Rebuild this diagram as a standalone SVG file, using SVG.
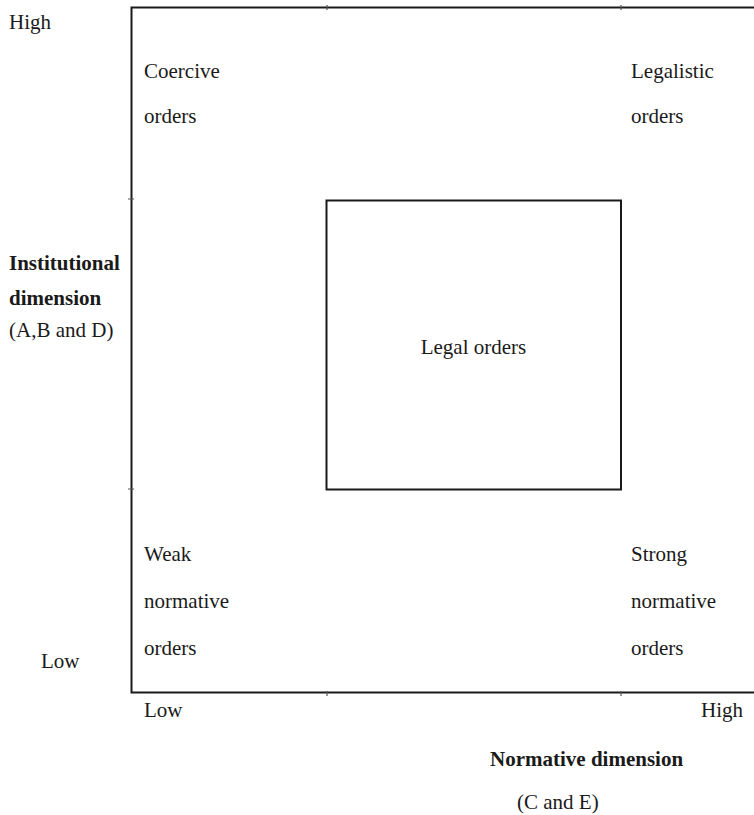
<svg xmlns="http://www.w3.org/2000/svg" width="754" height="815" viewBox="0 0 754 815">
<style>
text{font-family:"Liberation Serif","Times New Roman",serif;font-size:21px;fill:#1a1a1a}
.b{font-weight:bold}
.ln{stroke:#1a1a1a;stroke-width:2;fill:none}
.tk{stroke:#555;stroke-width:1.2}
</style>
<rect width="754" height="815" fill="#fff"/>
<g id="frame">
<path class="ln" d="M754 7.5H131.5V692.5H754"/>
<path class="tk" d="M327 5v5M621 5v5M327 691v5M621 691v5M128 199h6M128 489h6"/>
</g>
<g id="legal-orders">
<rect class="ln" x="326.5" y="200.5" width="294.5" height="289"/>
<text x="473.5" y="354" text-anchor="middle">Legal orders</text>
</g>
<g id="coercive">
<text x="144" y="78">Coercive</text>
<text x="144" y="123">orders</text>
</g>
<g id="legalistic">
<text x="631" y="78">Legalistic</text>
<text x="631" y="123">orders</text>
</g>
<g id="weak">
<text x="144" y="561">Weak</text>
<text x="144" y="608">normative</text>
<text x="144" y="655">orders</text>
</g>
<g id="strong">
<text x="631" y="561">Strong</text>
<text x="631" y="608">normative</text>
<text x="631" y="655">orders</text>
</g>
<g id="y-axis">
<text x="9" y="29">High</text>
<text class="b" x="9" y="270">Institutional</text>
<text class="b" x="9" y="305">dimension</text>
<text x="9" y="337">(A,B and D)</text>
<text x="41" y="668">Low</text>
</g>
<g id="x-axis">
<text x="144" y="717">Low</text>
<text x="743" y="717" text-anchor="end">High</text>
<text class="b" x="490" y="766">Normative dimension</text>
<text x="517" y="809">(C and E)</text>
</g>
</svg>
